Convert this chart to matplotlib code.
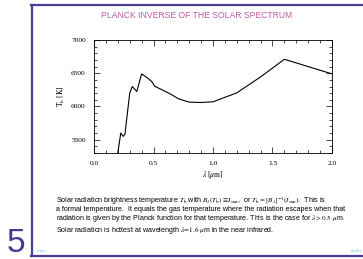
import numpy as np
import matplotlib
matplotlib.use("Agg")
from matplotlib import pyplot as plt
from matplotlib.ticker import MultipleLocator
from matplotlib.lines import Line2D

# Brightness temperature of the solar spectrum
wavelength = [0.20, 0.225, 0.245, 0.26, 0.30, 0.322, 0.36, 0.40, 0.445,
              0.485, 0.51, 0.64, 0.71, 0.80, 0.90, 1.00, 1.20, 1.40,
              1.60, 1.80, 2.00]
t_bright = [5300, 5600, 5550, 5580, 6200, 6300, 6225, 6490, 6435,
            6375, 6305, 6190, 6115, 6065, 6060, 6070, 6205, 6445,
            6710, 6600, 6490]

title = 'PLANCK INVERSE OF THE SOLAR SPECTRUM'
caption = [
    r'Solar radiation brightness temperature $T_\mathrm{b}$ with $B_\lambda(T_\mathrm{b}) \equiv I_\mathrm{sun}$,  or $T_\mathrm{b} = [B_\lambda]^{-1}(I_\mathrm{sun})$.  This is',
    'a formal temperature.  It equals the gas temperature where the radiation escapes when that',
    r'radiation is given by the Planck function for that temperature. This is the case for $\lambda > 0.5\ \mu$m.',
]
caption2 = r'Solar radiation is hottest at wavelength $\lambda\!=\!1.6\ \mu$m in the near infrared.'

plt.rcParams['mathtext.fontset'] = 'stix'
purple = '#4a3d98'

W, H = 363, 259
fig = plt.figure(figsize=(W/100, H/100), dpi=100)

# slide frame
fig.add_artist(Line2D([31/W, 1], [1-5/H, 1-5/H], color=purple, lw=1.6))
fig.add_artist(Line2D([32/W, 32/W], [1-5/H, 1-256/H], color=purple, lw=1.6))
fig.add_artist(Line2D([31/W, 1], [1-256/H, 1-256/H], color=purple, lw=1.6))

fig.text(197/W, 1-15/H, title, ha='center', va='center', color='#c25aa6',
         fontsize=6.2, family='Liberation Sans')

ax = fig.add_axes([94/W, 1-153/H, 238/W, 113/H])
ax.plot(wavelength, t_bright, color='black', lw=0.8)
ax.set_xlim(0, 2)
ax.set_ylim(5300, 7000)
ax.xaxis.set_major_locator(MultipleLocator(0.5))
ax.xaxis.set_minor_locator(MultipleLocator(0.1))
ax.yaxis.set_major_locator(MultipleLocator(500))
ax.yaxis.set_minor_locator(MultipleLocator(100))
ax.tick_params(which='both', direction='in', top=True, right=True,
               labelsize=5.3, width=0.5, pad=6)
ax.tick_params(which='major', length=4)
ax.tick_params(which='minor', length=2)
ax.set_yticks([5500, 6000, 6500, 7000])
for lab in ax.get_xticklabels() + ax.get_yticklabels():
    lab.set_family('Liberation Serif')
for sp in ax.spines.values():
    sp.set_linewidth(0.6)
ax.xaxis.set_major_formatter(matplotlib.ticker.FormatStrFormatter('%.1f'))
ax.set_xlabel(r'$\lambda\ [\mu\mathrm{m}]$', fontsize=5.5, labelpad=2)
ax.set_ylabel(r'$\mathrm{T_b\ [K]}$', fontsize=5.5, labelpad=3)

for i, line in enumerate(caption):
    fig.text(56/W, 1-(201+8.6*i)/H, line, ha='left', va='center',
             fontsize=5.1, family='Liberation Sans')
fig.text(56/W, 1-231/H, caption2, ha='left', va='center',
         fontsize=5.1, family='Liberation Sans')

fig.text(7/W, 0.5/H, '5', ha='left', va='bottom', color='#3f3a8c',
         fontsize=24, family='Liberation Sans')
fig.text(37/W, 1-251/H, 'start', ha='left', va='center', color='#5cc6d2',
         fontsize=3.8, family='Liberation Serif', style='italic')
fig.text(362/W, 1-251/H, 'index', ha='right', va='center', color='#5cc6d2',
         fontsize=3.8, family='Liberation Serif', style='italic')

fig.savefig('out.png', dpi=100)
